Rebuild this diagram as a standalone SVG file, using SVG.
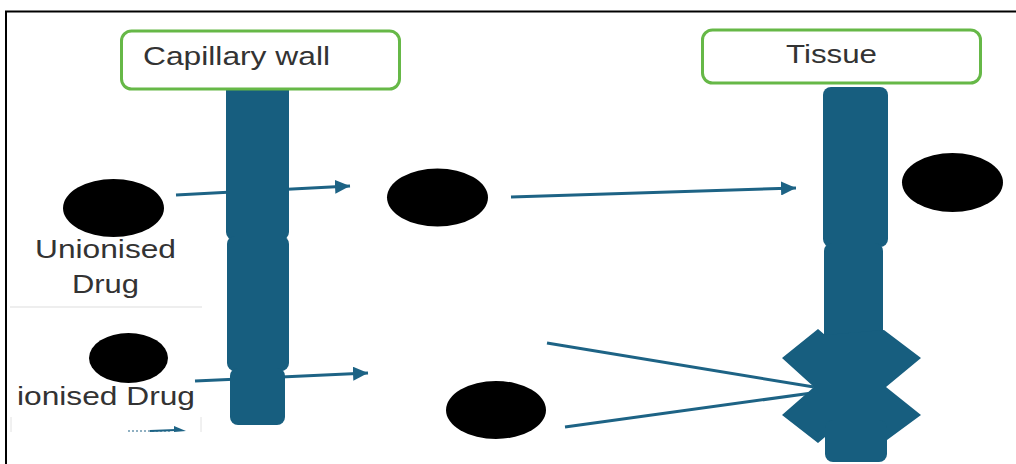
<svg xmlns="http://www.w3.org/2000/svg" width="1016" height="464" viewBox="0 0 1016 464">
  <defs>
    <style>
      .label { font-family: "Liberation Sans", Arial, sans-serif; fill: #333333; }
      .title { fill: #ffffff; stroke: #66b847; stroke-width: 3; }
      .wall { fill: #175e7f; }
      .drug { fill: #000000; }
      .flow { fill: none; stroke: #1d6385; stroke-width: 3; }
    </style>
    <marker id="head" markerUnits="userSpaceOnUse" markerWidth="16" markerHeight="14" refX="15" refY="7" orient="auto">
      <path d="M0,0 L15,7 L0,14 Z" fill="#1d6385"/>
    </marker>
  </defs>

  <rect x="0" y="0" width="1016" height="464" fill="#ffffff"/>

  <!-- frame lines -->
  <path d="M6,464 L6,11.5 L1016,11.5" fill="none" stroke="#000000" stroke-width="2"/>

  <!-- legend inset separators -->
  <line x1="10" y1="307" x2="202" y2="307" stroke="#dddddd" stroke-width="1"/>
  <line x1="11" y1="417" x2="11" y2="432" stroke="#e2e2e2" stroke-width="1"/>
  <line x1="201" y1="417" x2="201" y2="432" stroke="#e2e2e2" stroke-width="1"/>

  <!-- connectors -->
  <g id="connectors">
    <line class="flow" x1="176" y1="195" x2="350" y2="186" marker-end="url(#head)"/>
    <line class="flow" x1="511" y1="197" x2="796" y2="188" marker-end="url(#head)"/>
    <line class="flow" x1="195" y1="381" x2="368" y2="373" marker-end="url(#head)"/>
    <line class="flow" x1="547" y1="343" x2="814" y2="387"/>
    <line class="flow" x1="565" y1="427" x2="812" y2="393"/>
    <!-- partial legend arrow -->
    <line x1="128" y1="431" x2="170" y2="431" stroke="#8fb0c2" stroke-width="2" stroke-dasharray="2 2"/>
    <line x1="150" y1="431" x2="176" y2="430" stroke="#1d6385" stroke-width="2"/>
    <path d="M174,426 L186,431 L174,432 Z" fill="#1d6385"/>
  </g>

  <!-- capillary wall column -->
  <g id="capillary-wall">
    <rect class="wall" x="226" y="82" width="63" height="158" rx="8"/>
    <rect class="wall" x="227" y="236" width="62" height="135" rx="8"/>
    <rect class="wall" x="230" y="368" width="55" height="57" rx="8"/>
  </g>

  <!-- tissue column -->
  <g id="tissue-wall">
    <rect class="wall" x="823" y="87" width="65" height="160" rx="8"/>
    <rect class="wall" x="824" y="243" width="59" height="110" rx="8"/>
    <polygon class="wall" points="825,335 818,329 782,358 814,387 782,415 818,443 825,437 887,440 921,415 886,387 921,358 884,330"/>
    <rect class="wall" x="825" y="420" width="62" height="42" rx="8"/>
  </g>

  <!-- title boxes -->
  <g id="capillary-title">
    <rect class="title" x="121.5" y="31" width="278" height="58" rx="10"/>
    <text class="label" x="143" y="65" font-size="26" textLength="187" lengthAdjust="spacingAndGlyphs">Capillary wall</text>
  </g>
  <g id="tissue-title">
    <rect class="title" x="702.5" y="30" width="278" height="53" rx="10"/>
    <text class="label" x="786" y="63" font-size="25" textLength="91" lengthAdjust="spacingAndGlyphs">Tissue</text>
  </g>

  <!-- drug particles -->
  <g id="unionised-drug">
    <ellipse class="drug" cx="113.5" cy="208" rx="50.5" ry="29"/>
    <text class="label" x="35" y="258" font-size="25" textLength="141" lengthAdjust="spacingAndGlyphs">Unionised</text>
    <text class="label" x="72" y="293" font-size="25" textLength="67" lengthAdjust="spacingAndGlyphs">Drug</text>
  </g>
  <g id="ionised-drug">
    <ellipse class="drug" cx="128.5" cy="358" rx="39.5" ry="25"/>
    <text class="label" x="17" y="405" font-size="25" textLength="178" lengthAdjust="spacingAndGlyphs">ionised Drug</text>
  </g>
  <g id="drug-plasma-side">
    <ellipse class="drug" cx="437.5" cy="197.5" rx="50.5" ry="29"/>
  </g>
  <g id="drug-tissue-side">
    <ellipse class="drug" cx="952.5" cy="182.5" rx="50.5" ry="29.5"/>
  </g>
  <g id="drug-ionised-side">
    <ellipse class="drug" cx="496" cy="410" rx="50" ry="29"/>
  </g>
</svg>
